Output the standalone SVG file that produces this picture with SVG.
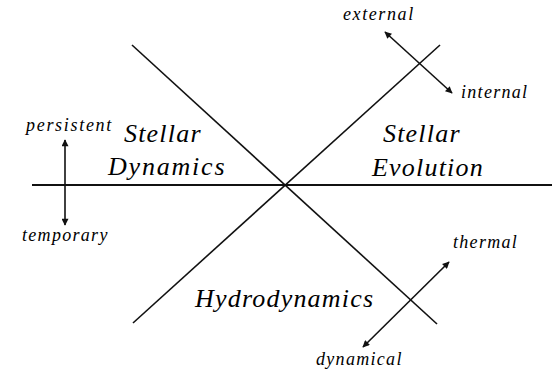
<svg xmlns="http://www.w3.org/2000/svg" width="552" height="372" viewBox="0 0 552 372">
<defs>
<marker id="ah" viewBox="0 0 10 10" refX="9" refY="5" markerWidth="9" markerHeight="7" markerUnits="userSpaceOnUse" orient="auto-start-reverse">
<path d="M0,0 L10,5 L0,10 Z" fill="#111"/>
</marker>
</defs>
<rect width="552" height="372" fill="#fff"/>
<g id="connectors" stroke="#111" fill="none" stroke-width="1.6">
<line x1="32" y1="185" x2="552" y2="185" stroke-width="2.2"/>
<line x1="132" y1="45" x2="437" y2="324"/>
<line x1="133" y1="323" x2="440" y2="45"/>
<line x1="65" y1="140" x2="65" y2="225" marker-start="url(#ah)" marker-end="url(#ah)"/>
<line x1="385" y1="32" x2="452" y2="93" marker-start="url(#ah)" marker-end="url(#ah)"/>
<line x1="449" y1="262" x2="363" y2="347" marker-start="url(#ah)" marker-end="url(#ah)"/>
</g>
<g id="stellar-dynamics">
<text x="124" y="142" style="font-family:'Liberation Serif',serif;font-style:italic;font-size:26px;letter-spacing:1.2px">Stellar</text>
<text x="108" y="175" style="font-family:'Liberation Serif',serif;font-style:italic;font-size:26px;letter-spacing:1.8px">Dynamics</text>
</g>
<g id="stellar-evolution">
<text x="383" y="142" style="font-family:'Liberation Serif',serif;font-style:italic;font-size:26px;letter-spacing:1.2px">Stellar</text>
<text x="372" y="176" style="font-family:'Liberation Serif',serif;font-style:italic;font-size:26px;letter-spacing:1.2px">Evolution</text>
</g>
<g id="hydrodynamics">
<text x="195" y="307" style="font-family:'Liberation Serif',serif;font-style:italic;font-size:26px;letter-spacing:1.2px">Hydrodynamics</text>
</g>
<g id="persistent"><text x="26" y="131" style="font-family:'Liberation Serif',serif;font-style:italic;font-size:18px;letter-spacing:1.7px">persistent</text></g>
<g id="temporary"><text x="22" y="241" style="font-family:'Liberation Serif',serif;font-style:italic;font-size:18px;letter-spacing:1.3px">temporary</text></g>
<g id="external"><text x="343" y="20" style="font-family:'Liberation Serif',serif;font-style:italic;font-size:18px;letter-spacing:1.6px">external</text></g>
<g id="internal"><text x="461" y="98" style="font-family:'Liberation Serif',serif;font-style:italic;font-size:18px;letter-spacing:1.3px">internal</text></g>
<g id="thermal"><text x="453" y="248" style="font-family:'Liberation Serif',serif;font-style:italic;font-size:18px;letter-spacing:1.3px">thermal</text></g>
<g id="dynamical"><text x="316" y="365" style="font-family:'Liberation Serif',serif;font-style:italic;font-size:18px;letter-spacing:1.3px">dynamical</text></g>
</svg>
